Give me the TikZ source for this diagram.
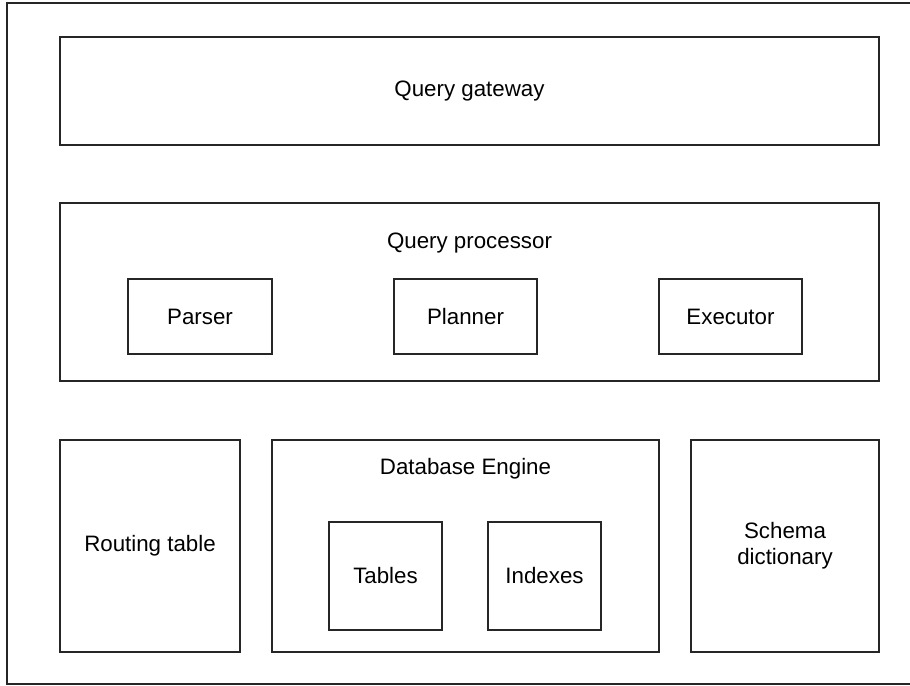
\documentclass[tikz,border=0pt]{standalone}
\usepackage{fontspec}
\setmainfont{Liberation Sans}
\begin{document}
\begin{tikzpicture}[x=0.02cm,y=-0.02cm,
  every node/.style={font=\fontsize{12.7}{14.8}\selectfont, text=black},
  box/.style={draw=black!85, line width=0.7pt, inner sep=0pt},
  rect/.style 2 args={minimum width=#1*0.02cm, minimum height=#2*0.02cm},
  caption/.style={inner sep=0pt, align=center}]
\useasboundingbox (0,0) rectangle (910,686);
% outer frame (open on the right, it runs to the page edge)
\draw[draw=black!85, line width=0.7pt] (912,3) -- (7,3) -- (7,684) -- (912,684);

% top layer
\node[box, rect={819}{108}] (gateway) at (469.5,91) {Query gateway};

% query processor and its stages
\node[box, rect={819}{178}] (processor) at (469.5,292) {};
\node[caption] (proclabel) at (469.5,243) {Query processor};
\node[box, rect={144}{75}] (parser) at (200,316.5) {Parser};
\node[box, rect={143}{75}] (planner) at (465.5,316.5) {Planner};
\node[box, rect={143}{75}] (executor) at (730.5,316.5) {Executor};

% storage layer
\node[box, rect={180}{212}] (routing) at (150,546) {Routing table};
\node[box, rect={387}{212}] (engine) at (465.5,546) {};
\node[caption] (enginelabel) at (465.5,469) {Database Engine};
\node[box, rect={113}{108}] (tables) at (385.5,576) {Tables};
\node[box, rect={113}{108}] (indexes) at (544.5,576) {Indexes};
\node[box, rect={188}{212}, align=center] (schema) at (785,546) {Schema\\dictionary};
\end{tikzpicture}
\end{document}
